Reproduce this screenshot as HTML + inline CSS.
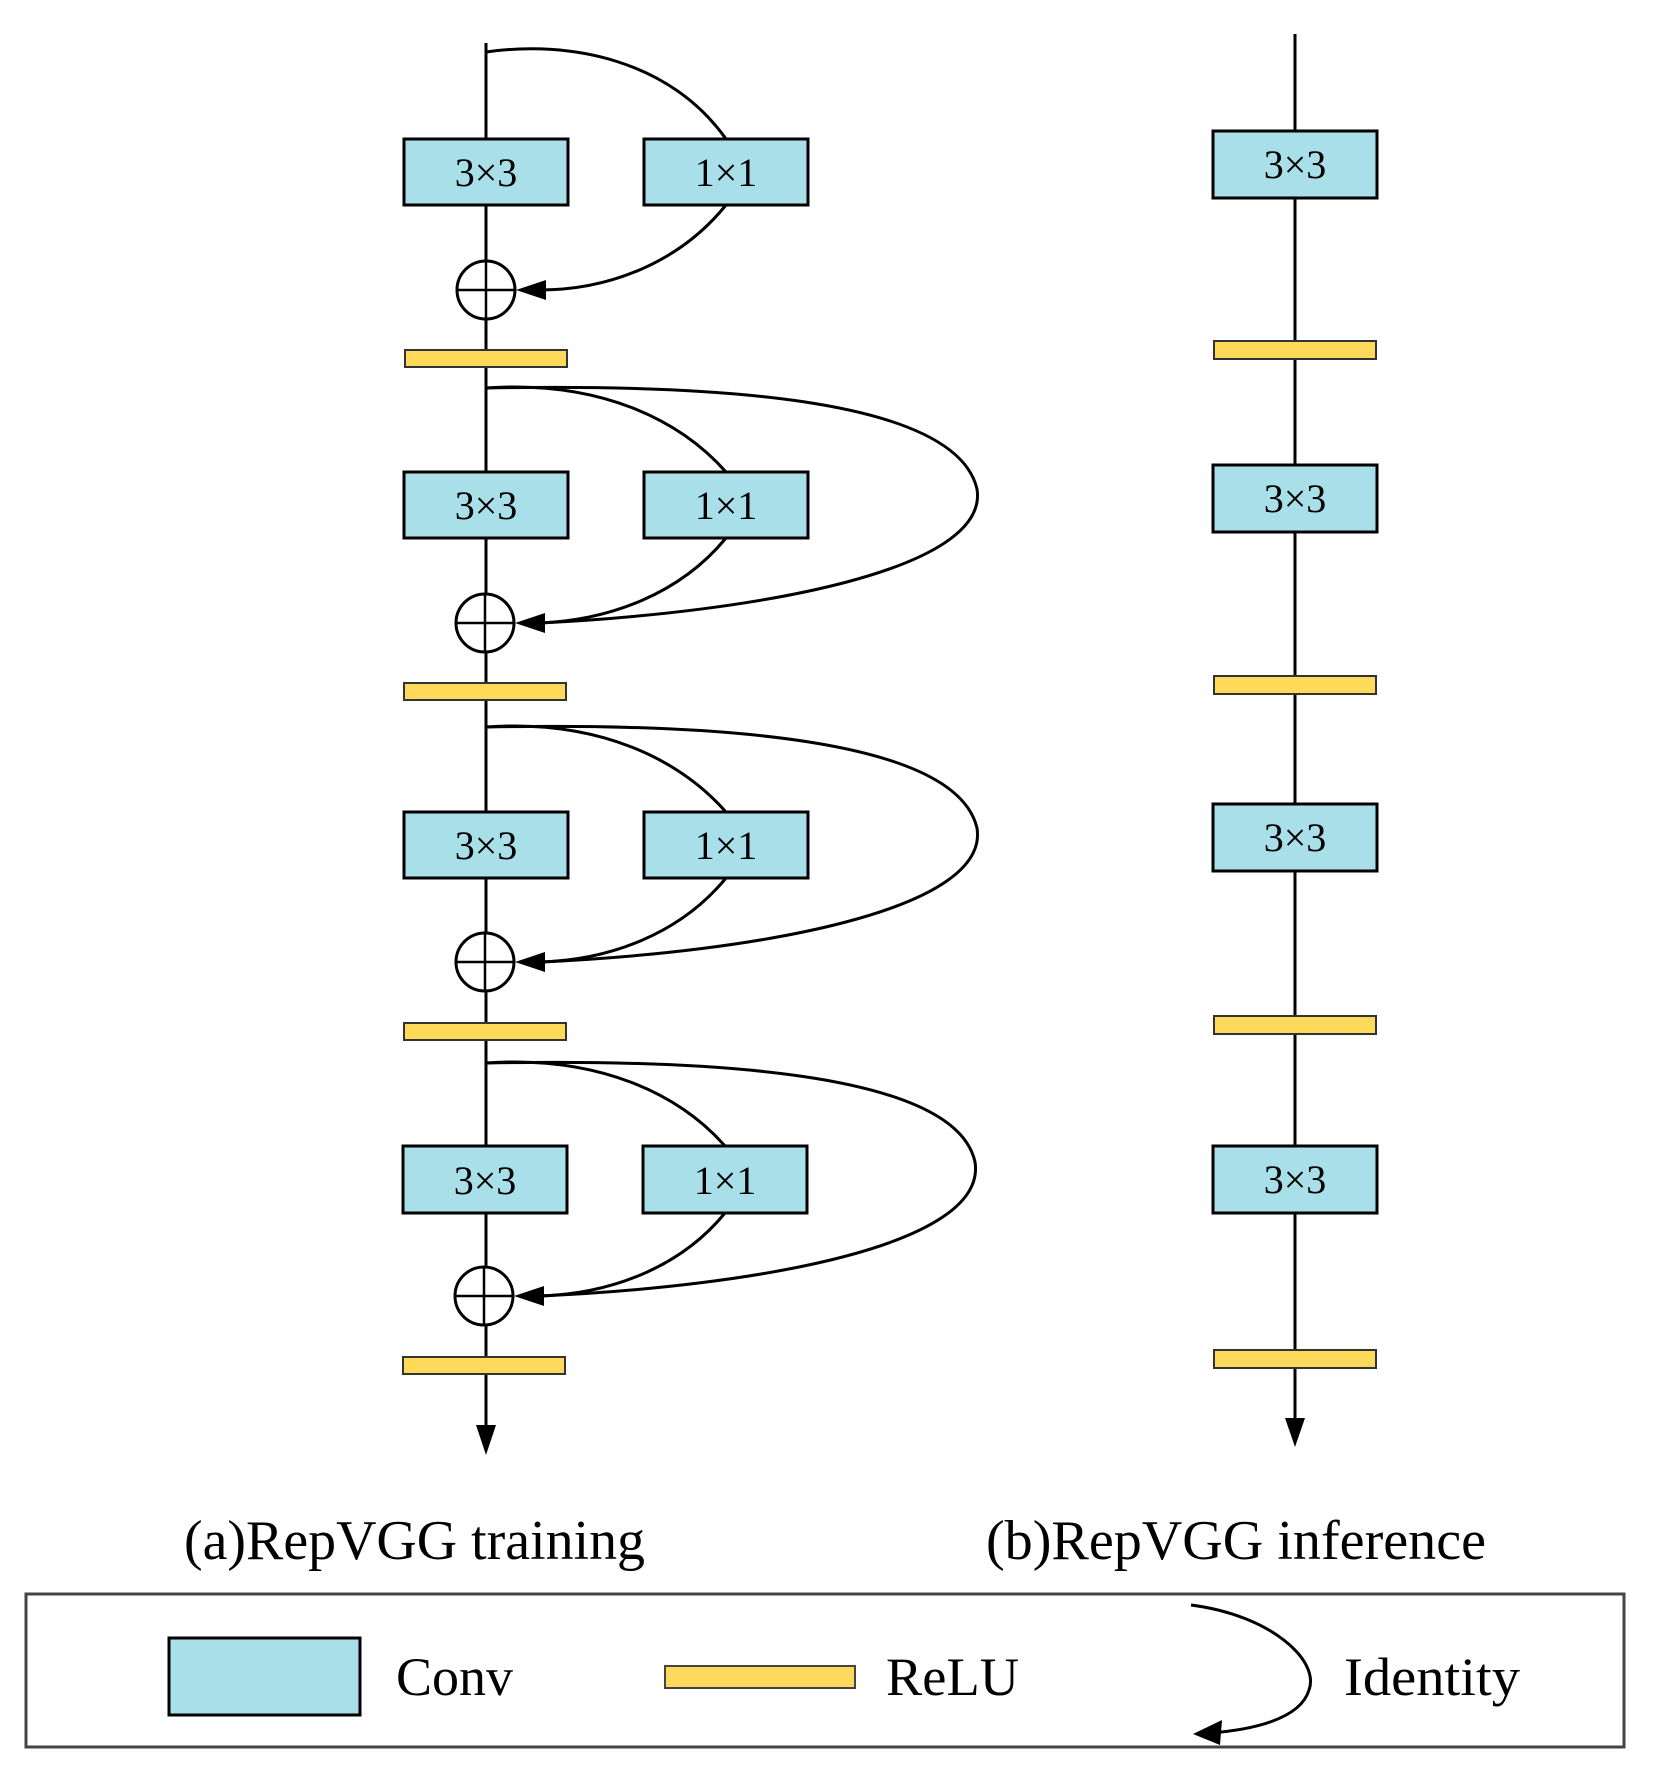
<!DOCTYPE html>
<html><head><meta charset="utf-8"><style>body{margin:0;background:#fff}svg{display:block}</style></head>
<body>
<svg width="1659" height="1786" viewBox="0 0 1659 1786" xmlns="http://www.w3.org/2000/svg">
<defs>
<g id="blk">
</g>
</defs>
<g stroke="#000" stroke-width="3" fill="none">
<line x1="486" y1="43" x2="486" y2="1430"/>
<line x1="1295" y1="34" x2="1295" y2="1425"/>
</g>
<polygon points="476,1425 496,1425 486,1455" fill="#000"/>
<polygon points="1285,1418 1305,1418 1295,1447" fill="#000"/>

<!-- training blocks -->
<g font-family="Liberation Serif, serif" font-size="40" text-anchor="middle">
<!-- block1 -->
<rect x="404" y="139" width="164" height="66" fill="#a8dfe8" stroke="#000" stroke-width="3"/>
<rect x="644" y="139" width="164" height="66" fill="#a8dfe8" stroke="#000" stroke-width="3"/>
<text x="486" y="186">3×3</text><text x="726" y="186">1×1</text>
<!-- block2 -->
<rect x="404" y="472" width="164" height="66" fill="#a8dfe8" stroke="#000" stroke-width="3"/>
<rect x="644" y="472" width="164" height="66" fill="#a8dfe8" stroke="#000" stroke-width="3"/>
<text x="486" y="519">3×3</text><text x="726" y="519">1×1</text>
<!-- block3 -->
<rect x="404" y="812" width="164" height="66" fill="#a8dfe8" stroke="#000" stroke-width="3"/>
<rect x="644" y="812" width="164" height="66" fill="#a8dfe8" stroke="#000" stroke-width="3"/>
<text x="486" y="859">3×3</text><text x="726" y="859">1×1</text>
<!-- block4 -->
<rect x="403" y="1146" width="164" height="67" fill="#a8dfe8" stroke="#000" stroke-width="3"/>
<rect x="643" y="1146" width="164" height="67" fill="#a8dfe8" stroke="#000" stroke-width="3"/>
<text x="485" y="1194">3×3</text><text x="725" y="1194">1×1</text>
<!-- inference -->
<rect x="1213" y="131" width="164" height="67" fill="#a8dfe8" stroke="#000" stroke-width="3"/>
<rect x="1213" y="465" width="164" height="67" fill="#a8dfe8" stroke="#000" stroke-width="3"/>
<rect x="1213" y="804" width="164" height="67" fill="#a8dfe8" stroke="#000" stroke-width="3"/>
<rect x="1213" y="1146" width="164" height="67" fill="#a8dfe8" stroke="#000" stroke-width="3"/>
<text x="1295" y="178">3×3</text><text x="1295" y="512">3×3</text><text x="1295" y="851">3×3</text><text x="1295" y="1193">3×3</text>
</g>

<!-- relu bars -->
<g fill="#ffd95a" stroke="#333" stroke-width="2">
<rect x="405" y="350" width="162" height="17"/>
<rect x="404" y="683" width="162" height="17"/>
<rect x="404" y="1023" width="162" height="17"/>
<rect x="403" y="1357" width="162" height="17"/>
<rect x="1214" y="341" width="162" height="18"/>
<rect x="1214" y="676" width="162" height="18"/>
<rect x="1214" y="1016" width="162" height="18"/>
<rect x="1214" y="1350" width="162" height="18"/>
</g>

<!-- circles -->
<g fill="#fff" stroke="#000" stroke-width="3">
<circle cx="486" cy="290" r="29"/><circle cx="485" cy="623" r="29"/><circle cx="485" cy="962" r="29"/><circle cx="484" cy="1296" r="29"/>
</g>
<g stroke="#000" stroke-width="2.5">
<line x1="457" y1="290" x2="515" y2="290"/><line x1="486" y1="261" x2="486" y2="319"/>
<line x1="456" y1="623" x2="514" y2="623"/><line x1="485" y1="594" x2="485" y2="652"/>
<line x1="456" y1="962" x2="514" y2="962"/><line x1="485" y1="933" x2="485" y2="991"/>
<line x1="455" y1="1296" x2="513" y2="1296"/><line x1="484" y1="1267" x2="484" y2="1325"/>
</g>

<!-- curves -->
<g stroke="#000" stroke-width="3" fill="none">
<path d="M486,52 C570,40 670,60 726,139"/>
<path d="M726,205 C680,262 610,290 540,290"/>
<path d="M486,388 C600,380 680,420 726,472"/>
<path d="M726,538 C680,594 610,620 540,623"/>
<path d="M486,388 C700,384 955,395 977,489 C990,570 760,612 540,623"/>
<path d="M486,727 C600,719 680,760 726,812"/>
<path d="M726,878 C680,934 610,960 540,962"/>
<path d="M486,727 C700,723 955,735 977,828 C990,910 760,952 540,962"/>
<path d="M486,1063 C600,1055 680,1095 725,1146"/>
<path d="M725,1213 C680,1268 610,1294 540,1296"/>
<path d="M486,1063 C700,1059 955,1070 975,1162 C988,1245 760,1286 540,1296"/>
</g>
<g fill="#000">
<polygon points="516,290 546,280 546,300"/>
<polygon points="515,623 545,613 545,633"/>
<polygon points="515,962 545,952 545,972"/>
<polygon points="514,1296 544,1286 544,1306"/>
</g>

<!-- captions -->
<g font-family="Liberation Serif, serif" font-size="56">
<text x="184" y="1559" textLength="461" lengthAdjust="spacingAndGlyphs">(a)RepVGG training</text>
<text x="986" y="1559" textLength="500" lengthAdjust="spacingAndGlyphs">(b)RepVGG inference</text>
</g>

<!-- legend -->
<rect x="26" y="1594" width="1598" height="153" fill="none" stroke="#444" stroke-width="3"/>
<rect x="169" y="1638" width="191" height="77" fill="#a8dfe8" stroke="#000" stroke-width="3"/>
<rect x="665" y="1666" width="190" height="22" fill="#ffd95a" stroke="#444" stroke-width="2"/>
<path d="M1191,1605 C1270,1615 1320,1660 1309,1690 C1300,1720 1250,1730 1210,1733" stroke="#000" stroke-width="3" fill="none"/>
<polygon points="1193,1734 1222,1720 1220,1745" fill="#000"/>
<g font-family="Liberation Serif, serif" font-size="54">
<text x="396" y="1695" textLength="117" lengthAdjust="spacingAndGlyphs">Conv</text>
<text x="886" y="1695" textLength="133" lengthAdjust="spacingAndGlyphs">ReLU</text>
<text x="1344" y="1695" textLength="176" lengthAdjust="spacingAndGlyphs">Identity</text>
</g>
</svg>
</body></html>
